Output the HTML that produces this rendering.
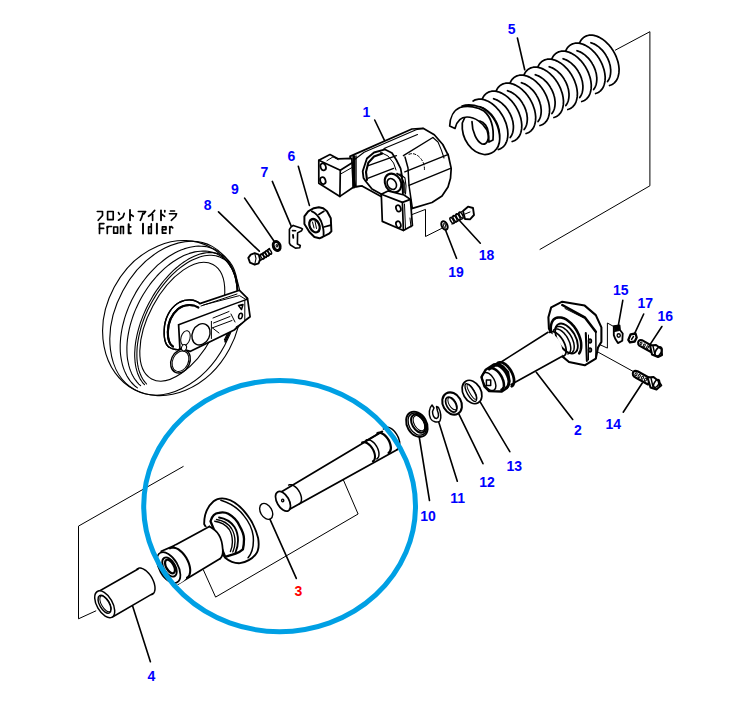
<!DOCTYPE html>
<html><head><meta charset="utf-8"><style>
html,body{margin:0;padding:0;background:#fff;width:747px;height:717px;overflow:hidden}
svg{display:block}
</style></head><body>
<svg width="747" height="717" viewBox="0 0 747 717" fill="none" stroke="#000" stroke-linecap="round" stroke-linejoin="round">
<path d="M615.4,50.1 L649.9,31.7 L649.9,185.8 L540.0,249.4" stroke-width="1.0" />
<path d="M183.2,466.5 L78.5,526.1 L78.5,618.8 L95.8,610.9" stroke-width="1.0" />
<text x="362.5" y="117" fill="#0000ff" stroke="none" style="font-family:&quot;Liberation Sans&quot;,sans-serif;font-weight:bold;font-size:14px">1</text>
<text x="507.8" y="34.2" fill="#0000ff" stroke="none" style="font-family:&quot;Liberation Sans&quot;,sans-serif;font-weight:bold;font-size:14px">5</text>
<text x="287.5" y="160.5" fill="#0000ff" stroke="none" style="font-family:&quot;Liberation Sans&quot;,sans-serif;font-weight:bold;font-size:14px">6</text>
<text x="260.5" y="176.7" fill="#0000ff" stroke="none" style="font-family:&quot;Liberation Sans&quot;,sans-serif;font-weight:bold;font-size:14px">7</text>
<text x="203.8" y="210" fill="#0000ff" stroke="none" style="font-family:&quot;Liberation Sans&quot;,sans-serif;font-weight:bold;font-size:14px">8</text>
<text x="231" y="194" fill="#0000ff" stroke="none" style="font-family:&quot;Liberation Sans&quot;,sans-serif;font-weight:bold;font-size:14px">9</text>
<text x="478.8" y="259.7" fill="#0000ff" stroke="none" style="font-family:&quot;Liberation Sans&quot;,sans-serif;font-weight:bold;font-size:14px">18</text>
<text x="448.3" y="276.7" fill="#0000ff" stroke="none" style="font-family:&quot;Liberation Sans&quot;,sans-serif;font-weight:bold;font-size:14px">19</text>
<text x="613" y="295" fill="#0000ff" stroke="none" style="font-family:&quot;Liberation Sans&quot;,sans-serif;font-weight:bold;font-size:14px">15</text>
<text x="637.5" y="308" fill="#0000ff" stroke="none" style="font-family:&quot;Liberation Sans&quot;,sans-serif;font-weight:bold;font-size:14px">17</text>
<text x="657.5" y="321" fill="#0000ff" stroke="none" style="font-family:&quot;Liberation Sans&quot;,sans-serif;font-weight:bold;font-size:14px">16</text>
<text x="605.5" y="428.8" fill="#0000ff" stroke="none" style="font-family:&quot;Liberation Sans&quot;,sans-serif;font-weight:bold;font-size:14px">14</text>
<text x="574" y="435.1" fill="#0000ff" stroke="none" style="font-family:&quot;Liberation Sans&quot;,sans-serif;font-weight:bold;font-size:14px">2</text>
<text x="506.5" y="471.2" fill="#0000ff" stroke="none" style="font-family:&quot;Liberation Sans&quot;,sans-serif;font-weight:bold;font-size:14px">13</text>
<text x="479.2" y="487.3" fill="#0000ff" stroke="none" style="font-family:&quot;Liberation Sans&quot;,sans-serif;font-weight:bold;font-size:14px">12</text>
<text x="450.3" y="502.7" fill="#0000ff" stroke="none" style="font-family:&quot;Liberation Sans&quot;,sans-serif;font-weight:bold;font-size:14px">11</text>
<text x="420.3" y="520.9" fill="#0000ff" stroke="none" style="font-family:&quot;Liberation Sans&quot;,sans-serif;font-weight:bold;font-size:14px">10</text>
<text x="147.5" y="681.1" fill="#0000ff" stroke="none" style="font-family:&quot;Liberation Sans&quot;,sans-serif;font-weight:bold;font-size:14px">4</text>
<text x="294.6" y="595.9" fill="#ff0000" stroke="none" style="font-family:&quot;Liberation Sans&quot;,sans-serif;font-weight:bold;font-size:14px">3</text>
<path d="M374.7,120.0 L385.3,142.1" stroke-width="1.61" />
<path d="M517.4,38.0 L524.7,69.8" stroke-width="1.61" />
<path d="M298.3,166.3 L309.4,205.4" stroke-width="1.61" />
<path d="M272.3,181.4 L291.1,225.9" stroke-width="1.61" />
<path d="M218.5,211.8 L259.3,251.2" stroke-width="1.61" />
<path d="M244.6,198.1 L274.3,241.5" stroke-width="1.61" />
<path d="M459.7,220.7 L480.3,243.2" stroke-width="1.61" />
<path d="M445.1,229.0 L456.5,258.3" stroke-width="1.61" />
<path d="M622.8,300.3 L617.9,327.9" stroke-width="1.61" />
<path d="M643.7,314.0 L634.0,334.9" stroke-width="1.61" />
<path d="M661.9,326.5 L650.0,344.6" stroke-width="1.61" />
<path d="M623.2,412.2 L642.3,383.0" stroke-width="1.61" />
<path d="M572.7,419.5 L536.3,372.3" stroke-width="1.61" />
<path d="M509.8,451.7 L480.3,402.1" stroke-width="1.61" />
<path d="M483.0,463.7 L458.9,414.2" stroke-width="1.61" />
<path d="M457.3,481.2 L438.8,422.2" stroke-width="1.61" />
<path d="M429.5,500.5 L419.3,437.5" stroke-width="1.61" />
<path d="M150.4,661.7 L132.6,605.9" stroke-width="1.61" />
<path d="M296.3,578.4 L270.0,519.4" stroke-width="1.61" />
<path d="M412.4,214.4 L425.5,209.4 L425.5,236.5 L441.5,228.5" stroke-width="1.0" />
<path d="M613.7,326.5 L607.4,323.0 L607.4,348.1 L598.4,344.0" stroke-width="1.0" />
<path d="M598.4,352.3 L633.3,371.5" stroke-width="1.0" />
<path d="M203.4,570.0 L215.6,597.1 L358.1,514.0 L343.1,479.3" stroke-width="1.0" />
<path d="M578.3,47.9 L578.6,46.2 L579.0,44.5 L579.6,43.0 L580.2,41.6 L581.0,40.3 L581.9,39.1 L582.9,38.1 L584.0,37.2 L585.2,36.5 L586.5,35.9 L587.9,35.5 L589.3,35.2 L590.8,35.1 L592.3,35.2 L593.9,35.4 L595.5,35.8 L597.2,36.4 L598.8,37.1 L600.4,37.9 L602.1,38.9 L603.7,40.1 L605.3,41.4 L606.8,42.8 L608.3,44.3 L609.7,45.9 L611.0,47.6 L612.3,49.4 L613.5,51.3 L614.5,53.2 L615.5,55.1 L616.4,57.2 L617.1,59.2 L617.8,61.2 L618.3,63.3 L618.7,65.3 L618.9,67.2 L619.1,69.2 L619.0,71.1 L618.9,72.9 L618.6,74.6 L618.2,76.3 L617.7,77.8 L617.1,79.2 L616.3,80.6 L615.4,81.7 L614.4,82.8 L613.3,83.7 L612.1,84.4 L610.9,85.0 L609.5,85.5 L603.5,85.9 L604.4,85.4 L605.3,84.9 L606.1,84.3 L606.9,83.7 L607.6,82.9 L608.3,82.1 L608.9,81.2 L609.4,80.3 L609.9,79.3 L610.3,78.2 L610.6,77.1 L610.9,76.0 L611.1,74.8 L611.3,73.5 L611.3,72.3 L611.4,70.9 L611.3,69.6 L611.1,68.2 L610.9,66.9 L610.7,65.5 L610.3,64.1 L609.9,62.7 L609.4,61.3 L608.9,60.0 L608.3,58.6 L607.6,57.3 L606.9,55.9 L606.2,54.7 L605.3,53.4 L604.5,52.2 L603.6,51.0 L602.6,49.9 L601.6,48.8 L600.6,47.8 L599.6,46.9 L598.5,46.0 L597.4,45.2 L596.3,44.4 L595.1,43.8 L594.0,43.2 L592.8,42.6 L591.7,42.2 L590.5,41.8 L589.4,41.6 L588.3,41.4 L587.2,41.3 L586.1,41.2 L585.0,41.3 L584.0,41.4 L583.0,41.7Z" stroke="none" fill="#fff"/>
<path d="M578.3,47.9 L578.6,46.2 L579.0,44.5 L579.6,43.0 L580.2,41.6 L581.0,40.3 L581.9,39.1 L582.9,38.1 L584.0,37.2 L585.2,36.5 L586.5,35.9 L587.9,35.5 L589.3,35.2 L590.8,35.1 L592.3,35.2 L593.9,35.4 L595.5,35.8 L597.2,36.4 L598.8,37.1 L600.4,37.9 L602.1,38.9 L603.7,40.1 L605.3,41.4 L606.8,42.8 L608.3,44.3 L609.7,45.9 L611.0,47.6 L612.3,49.4 L613.5,51.3 L614.5,53.2 L615.5,55.1 L616.4,57.2 L617.1,59.2 L617.8,61.2 L618.3,63.3 L618.7,65.3 L618.9,67.2 L619.1,69.2 L619.0,71.1 L618.9,72.9 L618.6,74.6 L618.2,76.3 L617.7,77.8 L617.1,79.2 L616.3,80.6 L615.4,81.7 L614.4,82.8 L613.3,83.7 L612.1,84.4 L610.9,85.0 L609.5,85.5" stroke-width="1.72" />
<path d="M607.5,81.6 L608.0,80.8 L608.5,80.0 L609.0,79.1 L609.4,78.2 L609.8,77.2 L610.1,76.2 L610.3,75.2 L610.5,74.1 L610.6,73.0 L610.7,71.9 L610.7,70.7 L610.7,69.5 L610.5,68.3 L610.4,67.1 L610.2,65.8 L609.9,64.6 L609.5,63.3 L609.2,62.1 L608.7,60.9 L608.2,59.7 L607.7,58.4 L607.1,57.3 L606.4,56.1 L605.8,54.9 L605.0,53.8 L604.3,52.8 L603.5,51.7 L602.6,50.7 L601.7,49.7 L600.8,48.8 L599.9,48.0 L599.0,47.1 L598.0,46.4 L597.0,45.7 L596.0,45.0 L595.0,44.4 L593.9,43.9 L592.9,43.5 L591.9,43.1 L590.9,42.7" stroke-width="1.72" />
<path d="M564.4,55.9 L564.7,54.2 L565.1,52.5 L565.7,51.0 L566.3,49.6 L567.1,48.3 L568.0,47.1 L569.0,46.1 L570.1,45.2 L571.3,44.5 L572.6,43.9 L574.0,43.5 L575.4,43.2 L576.9,43.1 L578.4,43.2 L580.0,43.4 L581.6,43.8 L583.3,44.4 L584.9,45.1 L586.5,45.9 L588.2,46.9 L589.8,48.1 L591.4,49.4 L592.9,50.8 L594.4,52.3 L595.8,53.9 L597.1,55.6 L598.4,57.4 L599.6,59.3 L600.6,61.2 L601.6,63.1 L602.5,65.2 L603.2,67.2 L603.9,69.2 L604.4,71.3 L604.8,73.3 L605.0,75.2 L605.2,77.2 L605.1,79.1 L605.0,80.9 L604.7,82.6 L604.3,84.3 L603.8,85.8 L603.2,87.2 L602.4,88.6 L601.5,89.7 L600.5,90.8 L599.4,91.7 L598.2,92.4 L597.0,93.0 L595.6,93.5 L589.6,93.9 L590.5,93.4 L591.4,92.9 L592.2,92.3 L593.0,91.7 L593.7,90.9 L594.4,90.1 L595.0,89.2 L595.5,88.3 L596.0,87.3 L596.4,86.2 L596.7,85.1 L597.0,84.0 L597.2,82.8 L597.4,81.5 L597.4,80.3 L597.5,78.9 L597.4,77.6 L597.2,76.2 L597.0,74.9 L596.8,73.5 L596.4,72.1 L596.0,70.7 L595.5,69.3 L595.0,68.0 L594.4,66.6 L593.7,65.3 L593.0,63.9 L592.3,62.7 L591.4,61.4 L590.6,60.2 L589.7,59.0 L588.7,57.9 L587.7,56.8 L586.7,55.8 L585.7,54.9 L584.6,54.0 L583.5,53.2 L582.4,52.4 L581.2,51.8 L580.1,51.2 L578.9,50.6 L577.8,50.2 L576.6,49.8 L575.5,49.6 L574.4,49.4 L573.3,49.3 L572.2,49.2 L571.1,49.3 L570.1,49.4 L569.1,49.7Z" stroke="none" fill="#fff"/>
<path d="M564.4,55.9 L564.7,54.2 L565.1,52.5 L565.7,51.0 L566.3,49.6 L567.1,48.3 L568.0,47.1 L569.0,46.1 L570.1,45.2 L571.3,44.5 L572.6,43.9 L574.0,43.5 L575.4,43.2 L576.9,43.1 L578.4,43.2 L580.0,43.4 L581.6,43.8 L583.3,44.4 L584.9,45.1 L586.5,45.9 L588.2,46.9 L589.8,48.1 L591.4,49.4 L592.9,50.8 L594.4,52.3 L595.8,53.9 L597.1,55.6 L598.4,57.4 L599.6,59.3 L600.6,61.2 L601.6,63.1 L602.5,65.2 L603.2,67.2 L603.9,69.2 L604.4,71.3 L604.8,73.3 L605.0,75.2 L605.2,77.2 L605.1,79.1 L605.0,80.9 L604.7,82.6 L604.3,84.3 L603.8,85.8 L603.2,87.2 L602.4,88.6 L601.5,89.7 L600.5,90.8 L599.4,91.7 L598.2,92.4 L597.0,93.0 L595.6,93.5" stroke-width="1.72" />
<path d="M593.6,89.6 L594.1,88.8 L594.6,88.0 L595.1,87.1 L595.5,86.2 L595.9,85.2 L596.2,84.2 L596.4,83.2 L596.6,82.1 L596.7,81.0 L596.8,79.9 L596.8,78.7 L596.8,77.5 L596.6,76.3 L596.5,75.1 L596.3,73.8 L596.0,72.6 L595.6,71.3 L595.3,70.1 L594.8,68.9 L594.3,67.7 L593.8,66.4 L593.2,65.3 L592.5,64.1 L591.9,62.9 L591.1,61.8 L590.4,60.8 L589.6,59.7 L588.7,58.7 L587.8,57.7 L586.9,56.8 L586.0,56.0 L585.1,55.1 L584.1,54.4 L583.1,53.7 L582.1,53.0 L581.1,52.4 L580.0,51.9 L579.0,51.5 L578.0,51.1 L577.0,50.7" stroke-width="1.72" />
<path d="M550.5,63.9 L550.8,62.2 L551.2,60.5 L551.8,59.0 L552.4,57.6 L553.2,56.3 L554.1,55.1 L555.1,54.1 L556.2,53.2 L557.4,52.5 L558.7,51.9 L560.1,51.5 L561.5,51.2 L563.0,51.1 L564.5,51.2 L566.1,51.4 L567.7,51.8 L569.4,52.4 L571.0,53.1 L572.6,53.9 L574.3,54.9 L575.9,56.1 L577.5,57.4 L579.0,58.8 L580.5,60.3 L581.9,61.9 L583.2,63.6 L584.5,65.4 L585.7,67.3 L586.7,69.2 L587.7,71.1 L588.6,73.2 L589.3,75.2 L590.0,77.2 L590.5,79.3 L590.9,81.3 L591.1,83.2 L591.3,85.2 L591.2,87.1 L591.1,88.9 L590.8,90.6 L590.4,92.3 L589.9,93.8 L589.3,95.2 L588.5,96.6 L587.6,97.7 L586.6,98.8 L585.5,99.7 L584.3,100.4 L583.1,101.0 L581.7,101.5 L575.7,101.9 L576.6,101.4 L577.5,100.9 L578.3,100.3 L579.1,99.7 L579.8,98.9 L580.5,98.1 L581.1,97.2 L581.6,96.3 L582.1,95.3 L582.5,94.2 L582.8,93.1 L583.1,92.0 L583.3,90.8 L583.5,89.5 L583.5,88.3 L583.6,86.9 L583.5,85.6 L583.3,84.2 L583.1,82.9 L582.9,81.5 L582.5,80.1 L582.1,78.7 L581.6,77.3 L581.1,76.0 L580.5,74.6 L579.8,73.3 L579.1,71.9 L578.4,70.7 L577.5,69.4 L576.7,68.2 L575.8,67.0 L574.8,65.9 L573.8,64.8 L572.8,63.8 L571.8,62.9 L570.7,62.0 L569.6,61.2 L568.5,60.4 L567.3,59.8 L566.2,59.2 L565.0,58.6 L563.9,58.2 L562.7,57.8 L561.6,57.6 L560.5,57.4 L559.4,57.3 L558.3,57.2 L557.2,57.3 L556.2,57.4 L555.2,57.7Z" stroke="none" fill="#fff"/>
<path d="M550.5,63.9 L550.8,62.2 L551.2,60.5 L551.8,59.0 L552.4,57.6 L553.2,56.3 L554.1,55.1 L555.1,54.1 L556.2,53.2 L557.4,52.5 L558.7,51.9 L560.1,51.5 L561.5,51.2 L563.0,51.1 L564.5,51.2 L566.1,51.4 L567.7,51.8 L569.4,52.4 L571.0,53.1 L572.6,53.9 L574.3,54.9 L575.9,56.1 L577.5,57.4 L579.0,58.8 L580.5,60.3 L581.9,61.9 L583.2,63.6 L584.5,65.4 L585.7,67.3 L586.7,69.2 L587.7,71.1 L588.6,73.2 L589.3,75.2 L590.0,77.2 L590.5,79.3 L590.9,81.3 L591.1,83.2 L591.3,85.2 L591.2,87.1 L591.1,88.9 L590.8,90.6 L590.4,92.3 L589.9,93.8 L589.3,95.2 L588.5,96.6 L587.6,97.7 L586.6,98.8 L585.5,99.7 L584.3,100.4 L583.1,101.0 L581.7,101.5" stroke-width="1.72" />
<path d="M579.7,97.6 L580.2,96.8 L580.7,96.0 L581.2,95.1 L581.6,94.2 L582.0,93.2 L582.3,92.2 L582.5,91.2 L582.7,90.1 L582.8,89.0 L582.9,87.9 L582.9,86.7 L582.9,85.5 L582.7,84.3 L582.6,83.1 L582.4,81.8 L582.1,80.6 L581.7,79.3 L581.4,78.1 L580.9,76.9 L580.4,75.7 L579.9,74.4 L579.3,73.3 L578.6,72.1 L578.0,70.9 L577.2,69.8 L576.5,68.8 L575.7,67.7 L574.8,66.7 L573.9,65.7 L573.0,64.8 L572.1,64.0 L571.2,63.1 L570.2,62.4 L569.2,61.7 L568.2,61.0 L567.2,60.4 L566.1,59.9 L565.1,59.5 L564.1,59.1 L563.1,58.7" stroke-width="1.72" />
<path d="M536.6,71.9 L536.9,70.2 L537.3,68.5 L537.9,67.0 L538.5,65.6 L539.3,64.3 L540.2,63.1 L541.2,62.1 L542.3,61.2 L543.5,60.5 L544.8,59.9 L546.2,59.5 L547.6,59.2 L549.1,59.1 L550.6,59.2 L552.2,59.4 L553.8,59.8 L555.5,60.4 L557.1,61.1 L558.7,61.9 L560.4,62.9 L562.0,64.1 L563.6,65.4 L565.1,66.8 L566.6,68.3 L568.0,69.9 L569.3,71.6 L570.6,73.4 L571.8,75.3 L572.8,77.2 L573.8,79.1 L574.7,81.2 L575.4,83.2 L576.1,85.2 L576.6,87.3 L577.0,89.3 L577.2,91.2 L577.4,93.2 L577.3,95.1 L577.2,96.9 L576.9,98.6 L576.5,100.3 L576.0,101.8 L575.4,103.2 L574.6,104.6 L573.7,105.7 L572.7,106.8 L571.6,107.7 L570.4,108.4 L569.2,109.0 L567.8,109.5 L561.8,109.9 L562.7,109.4 L563.6,108.9 L564.4,108.3 L565.2,107.7 L565.9,106.9 L566.6,106.1 L567.2,105.2 L567.7,104.3 L568.2,103.3 L568.6,102.2 L568.9,101.1 L569.2,100.0 L569.4,98.8 L569.6,97.5 L569.6,96.3 L569.7,94.9 L569.6,93.6 L569.4,92.2 L569.2,90.9 L569.0,89.5 L568.6,88.1 L568.2,86.7 L567.7,85.3 L567.2,84.0 L566.6,82.6 L565.9,81.3 L565.2,79.9 L564.5,78.7 L563.6,77.4 L562.8,76.2 L561.9,75.0 L560.9,73.9 L559.9,72.8 L558.9,71.8 L557.9,70.9 L556.8,70.0 L555.7,69.2 L554.6,68.4 L553.4,67.8 L552.3,67.2 L551.1,66.6 L550.0,66.2 L548.8,65.8 L547.7,65.6 L546.6,65.4 L545.5,65.3 L544.4,65.2 L543.3,65.3 L542.3,65.4 L541.3,65.7Z" stroke="none" fill="#fff"/>
<path d="M536.6,71.9 L536.9,70.2 L537.3,68.5 L537.9,67.0 L538.5,65.6 L539.3,64.3 L540.2,63.1 L541.2,62.1 L542.3,61.2 L543.5,60.5 L544.8,59.9 L546.2,59.5 L547.6,59.2 L549.1,59.1 L550.6,59.2 L552.2,59.4 L553.8,59.8 L555.5,60.4 L557.1,61.1 L558.7,61.9 L560.4,62.9 L562.0,64.1 L563.6,65.4 L565.1,66.8 L566.6,68.3 L568.0,69.9 L569.3,71.6 L570.6,73.4 L571.8,75.3 L572.8,77.2 L573.8,79.1 L574.7,81.2 L575.4,83.2 L576.1,85.2 L576.6,87.3 L577.0,89.3 L577.2,91.2 L577.4,93.2 L577.3,95.1 L577.2,96.9 L576.9,98.6 L576.5,100.3 L576.0,101.8 L575.4,103.2 L574.6,104.6 L573.7,105.7 L572.7,106.8 L571.6,107.7 L570.4,108.4 L569.2,109.0 L567.8,109.5" stroke-width="1.72" />
<path d="M565.8,105.6 L566.3,104.8 L566.8,104.0 L567.3,103.1 L567.7,102.2 L568.1,101.2 L568.4,100.2 L568.6,99.2 L568.8,98.1 L568.9,97.0 L569.0,95.9 L569.0,94.7 L569.0,93.5 L568.8,92.3 L568.7,91.1 L568.5,89.8 L568.2,88.6 L567.8,87.3 L567.5,86.1 L567.0,84.9 L566.5,83.7 L566.0,82.4 L565.4,81.3 L564.7,80.1 L564.1,78.9 L563.3,77.8 L562.6,76.8 L561.8,75.7 L560.9,74.7 L560.0,73.7 L559.1,72.8 L558.2,72.0 L557.3,71.1 L556.3,70.4 L555.3,69.7 L554.3,69.0 L553.3,68.4 L552.2,67.9 L551.2,67.5 L550.2,67.1 L549.2,66.7" stroke-width="1.72" />
<path d="M522.7,79.9 L523.0,78.2 L523.4,76.5 L524.0,75.0 L524.6,73.6 L525.4,72.3 L526.3,71.1 L527.3,70.1 L528.4,69.2 L529.6,68.5 L530.9,67.9 L532.3,67.5 L533.7,67.2 L535.2,67.1 L536.7,67.2 L538.3,67.4 L539.9,67.8 L541.6,68.4 L543.2,69.1 L544.8,69.9 L546.5,70.9 L548.1,72.1 L549.7,73.4 L551.2,74.8 L552.7,76.3 L554.1,77.9 L555.4,79.6 L556.7,81.4 L557.9,83.3 L558.9,85.2 L559.9,87.1 L560.8,89.2 L561.5,91.2 L562.2,93.2 L562.7,95.3 L563.1,97.3 L563.3,99.2 L563.5,101.2 L563.4,103.1 L563.3,104.9 L563.0,106.6 L562.6,108.3 L562.1,109.8 L561.5,111.2 L560.7,112.6 L559.8,113.7 L558.8,114.8 L557.7,115.7 L556.5,116.4 L555.3,117.0 L553.9,117.5 L547.9,117.9 L548.8,117.4 L549.7,116.9 L550.5,116.3 L551.3,115.7 L552.0,114.9 L552.7,114.1 L553.3,113.2 L553.8,112.3 L554.3,111.3 L554.7,110.2 L555.0,109.1 L555.3,108.0 L555.5,106.8 L555.7,105.5 L555.7,104.3 L555.8,102.9 L555.7,101.6 L555.5,100.2 L555.3,98.9 L555.1,97.5 L554.7,96.1 L554.3,94.7 L553.8,93.3 L553.3,92.0 L552.7,90.6 L552.0,89.3 L551.3,87.9 L550.6,86.7 L549.7,85.4 L548.9,84.2 L548.0,83.0 L547.0,81.9 L546.0,80.8 L545.0,79.8 L544.0,78.9 L542.9,78.0 L541.8,77.2 L540.7,76.4 L539.5,75.8 L538.4,75.2 L537.2,74.6 L536.1,74.2 L534.9,73.8 L533.8,73.6 L532.7,73.4 L531.6,73.3 L530.5,73.2 L529.4,73.3 L528.4,73.4 L527.4,73.7Z" stroke="none" fill="#fff"/>
<path d="M522.7,79.9 L523.0,78.2 L523.4,76.5 L524.0,75.0 L524.6,73.6 L525.4,72.3 L526.3,71.1 L527.3,70.1 L528.4,69.2 L529.6,68.5 L530.9,67.9 L532.3,67.5 L533.7,67.2 L535.2,67.1 L536.7,67.2 L538.3,67.4 L539.9,67.8 L541.6,68.4 L543.2,69.1 L544.8,69.9 L546.5,70.9 L548.1,72.1 L549.7,73.4 L551.2,74.8 L552.7,76.3 L554.1,77.9 L555.4,79.6 L556.7,81.4 L557.9,83.3 L558.9,85.2 L559.9,87.1 L560.8,89.2 L561.5,91.2 L562.2,93.2 L562.7,95.3 L563.1,97.3 L563.3,99.2 L563.5,101.2 L563.4,103.1 L563.3,104.9 L563.0,106.6 L562.6,108.3 L562.1,109.8 L561.5,111.2 L560.7,112.6 L559.8,113.7 L558.8,114.8 L557.7,115.7 L556.5,116.4 L555.3,117.0 L553.9,117.5" stroke-width="1.72" />
<path d="M551.9,113.6 L552.4,112.8 L552.9,112.0 L553.4,111.1 L553.8,110.2 L554.2,109.2 L554.5,108.2 L554.7,107.2 L554.9,106.1 L555.0,105.0 L555.1,103.9 L555.1,102.7 L555.1,101.5 L554.9,100.3 L554.8,99.1 L554.6,97.8 L554.3,96.6 L553.9,95.3 L553.6,94.1 L553.1,92.9 L552.6,91.7 L552.1,90.4 L551.5,89.3 L550.8,88.1 L550.2,86.9 L549.4,85.8 L548.7,84.8 L547.9,83.7 L547.0,82.7 L546.1,81.7 L545.2,80.8 L544.3,80.0 L543.4,79.1 L542.4,78.4 L541.4,77.7 L540.4,77.0 L539.4,76.4 L538.3,75.9 L537.3,75.5 L536.3,75.1 L535.3,74.7" stroke-width="1.72" />
<path d="M508.8,87.9 L509.1,86.2 L509.5,84.5 L510.1,83.0 L510.7,81.6 L511.5,80.3 L512.4,79.1 L513.4,78.1 L514.5,77.2 L515.7,76.5 L517.0,75.9 L518.4,75.5 L519.8,75.2 L521.3,75.1 L522.8,75.2 L524.4,75.4 L526.0,75.8 L527.7,76.4 L529.3,77.1 L530.9,77.9 L532.6,78.9 L534.2,80.1 L535.8,81.4 L537.3,82.8 L538.8,84.3 L540.2,85.9 L541.5,87.6 L542.8,89.4 L544.0,91.3 L545.0,93.2 L546.0,95.1 L546.9,97.2 L547.6,99.2 L548.3,101.2 L548.8,103.3 L549.2,105.3 L549.4,107.2 L549.6,109.2 L549.5,111.1 L549.4,112.9 L549.1,114.6 L548.7,116.3 L548.2,117.8 L547.6,119.2 L546.8,120.6 L545.9,121.7 L544.9,122.8 L543.8,123.7 L542.6,124.4 L541.4,125.0 L540.0,125.5 L534.0,125.9 L534.9,125.4 L535.8,124.9 L536.6,124.3 L537.4,123.7 L538.1,122.9 L538.8,122.1 L539.4,121.2 L539.9,120.3 L540.4,119.3 L540.8,118.2 L541.1,117.1 L541.4,116.0 L541.6,114.8 L541.8,113.5 L541.8,112.3 L541.9,110.9 L541.8,109.6 L541.6,108.2 L541.4,106.9 L541.2,105.5 L540.8,104.1 L540.4,102.7 L539.9,101.3 L539.4,100.0 L538.8,98.6 L538.1,97.3 L537.4,95.9 L536.7,94.7 L535.8,93.4 L535.0,92.2 L534.1,91.0 L533.1,89.9 L532.1,88.8 L531.1,87.8 L530.1,86.9 L529.0,86.0 L527.9,85.2 L526.8,84.4 L525.6,83.8 L524.5,83.2 L523.3,82.6 L522.2,82.2 L521.0,81.8 L519.9,81.6 L518.8,81.4 L517.7,81.3 L516.6,81.2 L515.5,81.3 L514.5,81.4 L513.5,81.7Z" stroke="none" fill="#fff"/>
<path d="M508.8,87.9 L509.1,86.2 L509.5,84.5 L510.1,83.0 L510.7,81.6 L511.5,80.3 L512.4,79.1 L513.4,78.1 L514.5,77.2 L515.7,76.5 L517.0,75.9 L518.4,75.5 L519.8,75.2 L521.3,75.1 L522.8,75.2 L524.4,75.4 L526.0,75.8 L527.7,76.4 L529.3,77.1 L530.9,77.9 L532.6,78.9 L534.2,80.1 L535.8,81.4 L537.3,82.8 L538.8,84.3 L540.2,85.9 L541.5,87.6 L542.8,89.4 L544.0,91.3 L545.0,93.2 L546.0,95.1 L546.9,97.2 L547.6,99.2 L548.3,101.2 L548.8,103.3 L549.2,105.3 L549.4,107.2 L549.6,109.2 L549.5,111.1 L549.4,112.9 L549.1,114.6 L548.7,116.3 L548.2,117.8 L547.6,119.2 L546.8,120.6 L545.9,121.7 L544.9,122.8 L543.8,123.7 L542.6,124.4 L541.4,125.0 L540.0,125.5" stroke-width="1.72" />
<path d="M538.0,121.6 L538.5,120.8 L539.0,120.0 L539.5,119.1 L539.9,118.2 L540.3,117.2 L540.6,116.2 L540.8,115.2 L541.0,114.1 L541.1,113.0 L541.2,111.9 L541.2,110.7 L541.2,109.5 L541.0,108.3 L540.9,107.1 L540.7,105.8 L540.4,104.6 L540.0,103.3 L539.7,102.1 L539.2,100.9 L538.7,99.7 L538.2,98.4 L537.6,97.3 L536.9,96.1 L536.3,94.9 L535.5,93.8 L534.8,92.8 L534.0,91.7 L533.1,90.7 L532.2,89.7 L531.3,88.8 L530.4,88.0 L529.5,87.1 L528.5,86.4 L527.5,85.7 L526.5,85.0 L525.5,84.4 L524.4,83.9 L523.4,83.5 L522.4,83.1 L521.4,82.7" stroke-width="1.72" />
<path d="M494.9,95.9 L495.2,94.2 L495.6,92.5 L496.2,91.0 L496.8,89.6 L497.6,88.3 L498.5,87.1 L499.5,86.1 L500.6,85.2 L501.8,84.5 L503.1,83.9 L504.5,83.5 L505.9,83.2 L507.4,83.1 L508.9,83.2 L510.5,83.4 L512.1,83.8 L513.8,84.4 L515.4,85.1 L517.0,85.9 L518.7,86.9 L520.3,88.1 L521.9,89.4 L523.4,90.8 L524.9,92.3 L526.3,93.9 L527.6,95.6 L528.9,97.4 L530.1,99.3 L531.1,101.2 L532.1,103.1 L533.0,105.2 L533.7,107.2 L534.4,109.2 L534.9,111.3 L535.3,113.3 L535.5,115.2 L535.7,117.2 L535.6,119.1 L535.5,120.9 L535.2,122.6 L534.8,124.3 L534.3,125.8 L533.7,127.2 L532.9,128.6 L532.0,129.7 L531.0,130.8 L529.9,131.7 L528.7,132.4 L527.5,133.0 L526.1,133.5 L520.1,133.9 L521.0,133.4 L521.9,132.9 L522.7,132.3 L523.5,131.7 L524.2,130.9 L524.9,130.1 L525.5,129.2 L526.0,128.3 L526.5,127.3 L526.9,126.2 L527.2,125.1 L527.5,124.0 L527.7,122.8 L527.9,121.5 L527.9,120.3 L528.0,118.9 L527.9,117.6 L527.7,116.2 L527.5,114.9 L527.3,113.5 L526.9,112.1 L526.5,110.7 L526.0,109.3 L525.5,108.0 L524.9,106.6 L524.2,105.3 L523.5,103.9 L522.8,102.7 L521.9,101.4 L521.1,100.2 L520.2,99.0 L519.2,97.9 L518.2,96.8 L517.2,95.8 L516.2,94.9 L515.1,94.0 L514.0,93.2 L512.9,92.4 L511.7,91.8 L510.6,91.2 L509.4,90.6 L508.3,90.2 L507.1,89.8 L506.0,89.6 L504.9,89.4 L503.8,89.3 L502.7,89.2 L501.6,89.3 L500.6,89.4 L499.6,89.7Z" stroke="none" fill="#fff"/>
<path d="M494.9,95.9 L495.2,94.2 L495.6,92.5 L496.2,91.0 L496.8,89.6 L497.6,88.3 L498.5,87.1 L499.5,86.1 L500.6,85.2 L501.8,84.5 L503.1,83.9 L504.5,83.5 L505.9,83.2 L507.4,83.1 L508.9,83.2 L510.5,83.4 L512.1,83.8 L513.8,84.4 L515.4,85.1 L517.0,85.9 L518.7,86.9 L520.3,88.1 L521.9,89.4 L523.4,90.8 L524.9,92.3 L526.3,93.9 L527.6,95.6 L528.9,97.4 L530.1,99.3 L531.1,101.2 L532.1,103.1 L533.0,105.2 L533.7,107.2 L534.4,109.2 L534.9,111.3 L535.3,113.3 L535.5,115.2 L535.7,117.2 L535.6,119.1 L535.5,120.9 L535.2,122.6 L534.8,124.3 L534.3,125.8 L533.7,127.2 L532.9,128.6 L532.0,129.7 L531.0,130.8 L529.9,131.7 L528.7,132.4 L527.5,133.0 L526.1,133.5" stroke-width="1.72" />
<path d="M524.1,129.6 L524.6,128.8 L525.1,128.0 L525.6,127.1 L526.0,126.2 L526.4,125.2 L526.7,124.2 L526.9,123.2 L527.1,122.1 L527.2,121.0 L527.3,119.9 L527.3,118.7 L527.3,117.5 L527.1,116.3 L527.0,115.1 L526.8,113.8 L526.5,112.6 L526.1,111.3 L525.8,110.1 L525.3,108.9 L524.8,107.7 L524.3,106.4 L523.7,105.3 L523.0,104.1 L522.4,102.9 L521.6,101.8 L520.9,100.8 L520.1,99.7 L519.2,98.7 L518.3,97.7 L517.4,96.8 L516.5,96.0 L515.6,95.1 L514.6,94.4 L513.6,93.7 L512.6,93.0 L511.6,92.4 L510.5,91.9 L509.5,91.5 L508.5,91.1 L507.5,90.7" stroke-width="1.72" />
<path d="M481.0,103.9 L481.3,102.2 L481.7,100.5 L482.3,99.0 L482.9,97.6 L483.7,96.3 L484.6,95.1 L485.6,94.1 L486.7,93.2 L487.9,92.5 L489.2,91.9 L490.6,91.5 L492.0,91.2 L493.5,91.1 L495.0,91.2 L496.6,91.4 L498.2,91.8 L499.9,92.4 L501.5,93.1 L503.1,93.9 L504.8,94.9 L506.4,96.1 L508.0,97.4 L509.5,98.8 L511.0,100.3 L512.4,101.9 L513.7,103.6 L515.0,105.4 L516.2,107.3 L517.2,109.2 L518.2,111.1 L519.1,113.2 L519.8,115.2 L520.5,117.2 L521.0,119.3 L521.4,121.3 L521.6,123.2 L521.8,125.2 L521.7,127.1 L521.6,128.9 L521.3,130.6 L520.9,132.3 L520.4,133.8 L519.8,135.2 L519.0,136.6 L518.1,137.7 L517.1,138.8 L516.0,139.7 L514.8,140.4 L513.6,141.0 L512.2,141.5 L506.2,141.9 L507.1,141.4 L508.0,140.9 L508.8,140.3 L509.6,139.7 L510.3,138.9 L511.0,138.1 L511.6,137.2 L512.1,136.3 L512.6,135.3 L513.0,134.2 L513.3,133.1 L513.6,132.0 L513.8,130.8 L514.0,129.5 L514.0,128.3 L514.1,126.9 L514.0,125.6 L513.8,124.2 L513.6,122.9 L513.4,121.5 L513.0,120.1 L512.6,118.7 L512.1,117.3 L511.6,116.0 L511.0,114.6 L510.3,113.3 L509.6,111.9 L508.9,110.7 L508.0,109.4 L507.2,108.2 L506.3,107.0 L505.3,105.9 L504.3,104.8 L503.3,103.8 L502.3,102.9 L501.2,102.0 L500.1,101.2 L499.0,100.4 L497.8,99.8 L496.7,99.2 L495.5,98.6 L494.4,98.2 L493.2,97.8 L492.1,97.6 L491.0,97.4 L489.9,97.3 L488.8,97.2 L487.7,97.3 L486.7,97.4 L485.7,97.7Z" stroke="none" fill="#fff"/>
<path d="M481.0,103.9 L481.3,102.2 L481.7,100.5 L482.3,99.0 L482.9,97.6 L483.7,96.3 L484.6,95.1 L485.6,94.1 L486.7,93.2 L487.9,92.5 L489.2,91.9 L490.6,91.5 L492.0,91.2 L493.5,91.1 L495.0,91.2 L496.6,91.4 L498.2,91.8 L499.9,92.4 L501.5,93.1 L503.1,93.9 L504.8,94.9 L506.4,96.1 L508.0,97.4 L509.5,98.8 L511.0,100.3 L512.4,101.9 L513.7,103.6 L515.0,105.4 L516.2,107.3 L517.2,109.2 L518.2,111.1 L519.1,113.2 L519.8,115.2 L520.5,117.2 L521.0,119.3 L521.4,121.3 L521.6,123.2 L521.8,125.2 L521.7,127.1 L521.6,128.9 L521.3,130.6 L520.9,132.3 L520.4,133.8 L519.8,135.2 L519.0,136.6 L518.1,137.7 L517.1,138.8 L516.0,139.7 L514.8,140.4 L513.6,141.0 L512.2,141.5" stroke-width="1.72" />
<path d="M510.2,137.6 L510.7,136.8 L511.2,136.0 L511.7,135.1 L512.1,134.2 L512.5,133.2 L512.8,132.2 L513.0,131.2 L513.2,130.1 L513.3,129.0 L513.4,127.9 L513.4,126.7 L513.4,125.5 L513.2,124.3 L513.1,123.1 L512.9,121.8 L512.6,120.6 L512.2,119.3 L511.9,118.1 L511.4,116.9 L510.9,115.7 L510.4,114.4 L509.8,113.3 L509.1,112.1 L508.5,110.9 L507.7,109.8 L507.0,108.8 L506.2,107.7 L505.3,106.7 L504.4,105.7 L503.5,104.8 L502.6,104.0 L501.7,103.1 L500.7,102.4 L499.7,101.7 L498.7,101.0 L497.7,100.4 L496.6,99.9 L495.6,99.5 L494.6,99.1 L493.6,98.7" stroke-width="1.72" />
<path d="M473.1,101.0 L474.1,100.4 L475.2,99.9 L476.3,99.6 L477.5,99.3 L478.7,99.2 L480.0,99.1 L481.3,99.2 L482.6,99.4 L484.0,99.7 L485.3,100.1 L486.7,100.7 L488.1,101.3 L489.4,102.0 L490.8,102.9 L492.1,103.8 L493.5,104.9 L494.8,106.0 L496.0,107.2 L497.2,108.5 L498.4,109.8 L499.6,111.2 L500.6,112.7 L501.6,114.2 L502.6,115.8 L503.5,117.4 L504.3,119.1 L505.0,120.8 L505.7,122.4 L506.3,124.1 L506.7,125.8 L507.1,127.5 L507.5,129.2 L507.7,130.9 L507.8,132.5 L507.9,134.1 L507.8,135.6 L507.7,137.2 L507.4,138.6 L507.1,140.0 L506.7,141.3 L506.2,142.5 L505.6,143.7 L505.0,144.7 L504.2,145.7 L503.4,146.6 L502.5,147.4 L501.5,148.1 L500.5,148.7 L499.4,149.1 L498.3,149.5 L492.3,149.9 L493.2,149.4 L494.1,148.9 L494.9,148.3 L495.7,147.7 L496.4,146.9 L497.1,146.1 L497.7,145.2 L498.2,144.3 L498.7,143.3 L499.1,142.2 L499.4,141.1 L499.7,140.0 L499.9,138.8 L500.1,137.5 L500.1,136.3 L500.2,134.9 L500.1,133.6 L499.9,132.2 L499.7,130.9 L499.5,129.5 L499.1,128.1 L498.7,126.7 L498.2,125.3 L497.7,124.0 L497.1,122.6 L496.4,121.3 L495.7,119.9 L495.0,118.7 L494.1,117.4 L493.3,116.2 L492.4,115.0 L491.4,113.9 L490.4,112.8 L489.4,111.8 L488.4,110.9 L487.3,110.0 L486.2,109.2 L485.1,108.4 L483.9,107.8 L482.8,107.2 L481.6,106.6 L480.5,106.2 L479.3,105.8 L478.2,105.6 L477.1,105.4 L476.0,105.3 L474.9,105.2 L473.8,105.3 L472.8,105.4 L471.8,105.7Z" stroke="none" fill="#fff"/>
<path d="M473.1,101.0 L474.1,100.4 L475.2,99.9 L476.3,99.6 L477.5,99.3 L478.7,99.2 L480.0,99.1 L481.3,99.2 L482.6,99.4 L484.0,99.7 L485.3,100.1 L486.7,100.7 L488.1,101.3 L489.4,102.0 L490.8,102.9 L492.1,103.8 L493.5,104.9 L494.8,106.0 L496.0,107.2 L497.2,108.5 L498.4,109.8 L499.6,111.2 L500.6,112.7 L501.6,114.2 L502.6,115.8 L503.5,117.4 L504.3,119.1 L505.0,120.8 L505.7,122.4 L506.3,124.1 L506.7,125.8 L507.1,127.5 L507.5,129.2 L507.7,130.9 L507.8,132.5 L507.9,134.1 L507.8,135.6 L507.7,137.2 L507.4,138.6 L507.1,140.0 L506.7,141.3 L506.2,142.5 L505.6,143.7 L505.0,144.7 L504.2,145.7 L503.4,146.6 L502.5,147.4 L501.5,148.1 L500.5,148.7 L499.4,149.1 L498.3,149.5" stroke-width="1.72" />
<path d="M496.3,145.6 L496.8,144.8 L497.3,144.0 L497.8,143.1 L498.2,142.2 L498.6,141.2 L498.9,140.2 L499.1,139.2 L499.3,138.1 L499.4,137.0 L499.5,135.9 L499.5,134.7 L499.5,133.5 L499.3,132.3 L499.2,131.1 L499.0,129.8 L498.7,128.6 L498.3,127.3 L498.0,126.1 L497.5,124.9 L497.0,123.7 L496.5,122.4 L495.9,121.3 L495.2,120.1 L494.6,118.9 L493.8,117.8 L493.1,116.8 L492.3,115.7 L491.4,114.7 L490.5,113.7 L489.6,112.8 L488.7,112.0 L487.8,111.1 L486.8,110.4 L485.8,109.7 L484.8,109.0 L483.8,108.4 L482.7,107.9 L481.7,107.5 L480.7,107.1 L479.7,106.7" stroke-width="1.72" />
<path d="M462.3,123 C461,140 472,153 484,154.5 C495,155 501,146 499.5,135 C498,122 490,111 480,107 C472,104 466,104.5 462,106 L470,106 Z" stroke-width="1.72" fill="#fff"/>
<path d="M449.7,126 C450,117 454,110 460,107.5 C468,105 478,107 484,111 C492,118 494,128 493,140 L489,142 C489,136 489,136 487,130 C483,123 475,117 467,117 C461,117 457,120 455,128.5 Z" stroke-width="1.72" fill="#fff"/>
<path d="M472,121.7 C472,132 477,142 482,144 C487,145 489,140 488.5,133 C488,127 484,122 480,121" stroke-width="1.72" />
<ellipse cx="171.8" cy="318.1" rx="80.7" ry="65.4" transform="rotate(118.2 171.8 318.1)" stroke-width="1.1" />
<ellipse cx="173.7" cy="318.2" rx="81.5" ry="57.8" transform="rotate(118.2 173.7 318.2)" stroke-width="1.1" />
<path d="M137.4,387.9 L135.3,386.3 L133.4,384.5 L131.5,382.5 L129.8,380.4 L128.3,378.1 L126.8,375.7 L125.5,373.1 L124.3,370.4 L123.3,367.6 L122.4,364.6 L121.7,361.5 L121.1,358.3 L120.6,355.0 L120.3,351.7 L120.2,348.2 L120.2,344.7 L120.4,341.1 L120.7,337.4 L121.2,333.7 L121.8,330.0 L122.5,326.3 L123.5,322.5 L124.5,318.7 L125.7,314.9 L127.0,311.2 L128.5,307.4 L130.1,303.7 L131.8,300.1 L133.7,296.5 L135.6,292.9 L137.7,289.4 L139.9,286.0 L142.2,282.7 L144.6,279.5 L147.0,276.4 L149.6,273.4 L152.2,270.6 L154.9,267.8 L157.6,265.2 L160.5,262.8 L163.3,260.5 L166.2,258.3 L169.1,256.3 L172.1,254.5 L175.1,252.8 L178.1,251.3 L181.0,250.0 L184.0,248.9 L187.0,248.0 L189.9,247.2 L192.8,246.7 L195.7,246.3 L198.5,246.1 L201.3,246.2 L204.0,246.4 L206.7,246.8 L209.3,247.4 L211.8,248.2 L214.2,249.1 L216.5,250.3 L218.8,251.6 L220.9,253.1 L222.9,254.8 L224.8,256.7 L226.6,258.7 L228.2,260.9 L229.7,263.2 L231.1,265.7 L232.4,268.4 L233.5,271.1 L234.5,274.0 L235.3,277.0 L236.0,280.1 L236.5,283.4 L236.9,286.7 L237.1,290.1 L237.2,293.6 L237.1,297.2 L236.9,300.8 L236.5,304.5 L236.0,308.2 L235.3,311.9 L234.5,315.7 L233.5,319.4 L232.4,323.2 L231.2,327.0 L229.8,330.7 L228.3,334.5 L226.6,338.2 L224.8,341.8" stroke-width="1.1" />
<path d="M140.6,385.7 L138.8,384.1 L137.1,382.2 L135.6,380.2 L134.1,378.1 L132.8,375.8 L131.6,373.4 L130.6,370.9 L129.6,368.2 L128.8,365.4 L128.2,362.5 L127.6,359.6 L127.2,356.5 L127.0,353.3 L126.9,350.0 L126.9,346.7 L127.1,343.3 L127.4,339.9 L127.9,336.4 L128.5,332.8 L129.2,329.3 L130.1,325.7 L131.1,322.1 L132.2,318.6 L133.4,315.0 L134.8,311.4 L136.3,307.9 L137.9,304.4 L139.6,301.0 L141.5,297.6 L143.4,294.2 L145.5,291.0 L147.6,287.8 L149.8,284.7 L152.1,281.7 L154.5,278.8 L156.9,276.0 L159.4,273.4 L162.0,270.8 L164.6,268.4 L167.3,266.1 L170.0,264.0 L172.7,262.0 L175.5,260.2 L178.3,258.5 L181.1,257.0 L183.8,255.6 L186.6,254.4 L189.4,253.4 L192.2,252.6 L194.9,251.9 L197.6,251.5 L200.2,251.2 L202.9,251.0 L205.4,251.1 L207.9,251.3 L210.3,251.8 L212.7,252.4 L215.0,253.1 L217.2,254.1 L219.3,255.2 L221.3,256.5 L223.3,258.0 L225.1,259.6 L226.8,261.4 L228.4,263.3 L229.8,265.4 L231.2,267.6 L232.4,270.0 L233.5,272.5 L234.5,275.1 L235.3,277.9 L236.1,280.7 L236.6,283.7 L237.0,286.8 L237.3,289.9 L237.5,293.2 L237.5,296.5 L237.4,299.8 L237.1,303.3 L236.7,306.8 L236.1,310.3 L235.4,313.8 L234.6,317.4 L233.7,321.0 L232.6,324.5 L231.4,328.1 L230.0,331.7 L228.6,335.2 L227.0,338.7 L225.3,342.2" stroke-width="1.1" />
<path d="M144.5,384.7 L143.0,383.1 L141.7,381.3 L140.4,379.4 L139.3,377.3 L138.3,375.1 L137.4,372.7 L136.7,370.3 L136.0,367.7 L135.5,365.0 L135.1,362.2 L134.9,359.2 L134.7,356.2 L134.7,353.1 L134.9,350.0 L135.1,346.7 L135.5,343.4 L136.0,340.1 L136.7,336.7 L137.4,333.3 L138.3,329.8 L139.3,326.3 L140.4,322.8 L141.7,319.4 L143.0,315.9 L144.5,312.4 L146.0,309.0 L147.7,305.6 L149.4,302.2 L151.3,298.9 L153.2,295.6 L155.2,292.4 L157.3,289.3 L159.5,286.3 L161.7,283.3 L164.0,280.5 L166.4,277.8 L168.8,275.1 L171.2,272.6 L173.7,270.2 L176.2,268.0 L178.8,265.8 L181.3,263.9 L183.9,262.0 L186.5,260.4 L189.0,258.8 L191.6,257.5 L194.2,256.3 L196.7,255.2 L199.2,254.3 L201.7,253.6 L204.1,253.1 L206.5,252.7 L208.8,252.6 L211.1,252.6 L213.4,252.7 L215.5,253.1 L217.6,253.6 L219.6,254.3 L221.5,255.1 L223.3,256.1 L225.1,257.3 L226.7,258.7 L228.2,260.2 L229.7,261.9 L231.0,263.7 L232.2,265.6 L233.3,267.7 L234.3,270.0 L235.1,272.4 L235.9,274.9 L236.5,277.5 L237.0,280.2 L237.3,283.0 L237.6,286.0 L237.7,289.0 L237.6,292.1 L237.5,295.3 L237.2,298.5 L236.8,301.9 L236.3,305.2 L235.6,308.6 L234.8,312.1 L233.9,315.5 L232.9,319.0 L231.7,322.5 L230.5,326.0 L229.1,329.5 L227.6,332.9 L226.0,336.4 L224.4,339.8" stroke-width="1.1" />
<path d="M146.6,384.0 L145.2,382.4 L143.8,380.7 L142.6,378.8 L141.5,376.8 L140.5,374.6 L139.6,372.3 L138.8,369.9 L138.2,367.4 L137.7,364.7 L137.3,362.0 L137.0,359.1 L136.9,356.2 L136.9,353.2 L137.0,350.1 L137.2,346.9 L137.6,343.7 L138.1,340.4 L138.7,337.1 L139.4,333.8 L140.3,330.4 L141.2,327.0 L142.3,323.6 L143.5,320.2 L144.8,316.8 L146.2,313.4 L147.7,310.1 L149.4,306.8 L151.1,303.5 L152.9,300.3 L154.8,297.1 L156.7,294.0 L158.8,290.9 L160.9,288.0 L163.1,285.1 L165.3,282.4 L167.6,279.7 L169.9,277.2 L172.3,274.7 L174.8,272.4 L177.2,270.2 L179.7,268.1 L182.2,266.2 L184.7,264.5 L187.3,262.8 L189.8,261.3 L192.3,260.0 L194.8,258.9 L197.3,257.9 L199.7,257.0 L202.2,256.3 L204.6,255.8 L206.9,255.5 L209.2,255.3 L211.5,255.3 L213.6,255.5 L215.8,255.8 L217.8,256.4 L219.8,257.0 L221.7,257.9 L223.5,258.9 L225.2,260.1 L226.8,261.4 L228.3,262.9 L229.7,264.5 L231.0,266.3 L232.2,268.2 L233.3,270.3 L234.3,272.5 L235.2,274.8 L235.9,277.2 L236.5,279.8 L237.0,282.5 L237.4,285.2 L237.6,288.1 L237.7,291.0 L237.7,294.1 L237.6,297.2 L237.3,300.4 L236.9,303.6 L236.4,306.9 L235.8,310.2 L235.0,313.5 L234.2,316.9 L233.2,320.3 L232.0,323.7 L230.8,327.1 L229.5,330.5 L228.1,333.9 L226.5,337.2 L224.9,340.5" stroke-width="1.1" />
<ellipse cx="182.3" cy="321.7" rx="64.9" ry="33.4" transform="rotate(118.2 182.3 321.7)" stroke-width="1.1" />
<g fill="#fff">
<path d="M199.8,303.6 C195,299 186.5,299 180,302 C172,306 166,315 164.5,326 C163.5,336 164,344 169.3,347.3 C173,350 178.6,350 181,349 L200,340 Z" stroke-width="1.38" />
<path d="M198.4,307.5 C193,304 184,304 178,309 C171,315 168,324 167.8,332 C167.8,340 169.5,344.6 173,346.5" stroke-width="1.84" />
<path d="M178.6,324.8 C183,316 190,307 199.8,303.6 L239.5,290.3 L247.5,298.3 L250.1,316.8 L244.8,320.8 L234.2,330 L190.5,351.3 L179.9,348.6 Z" stroke-width="1.38" stroke="none"/>
<path d="M199.8,303.6 L239.5,290.3 L247.5,298.3 L250.1,316.8 L244.8,320.8 L234.2,330.0 L190.5,351.3 L179.9,348.6 L178.6,324.8" stroke-width="1.72" />
</g>
<path d="M199.8,303.6 C195,299 186.5,299 180,302 C172,306 166,315 164.5,326 C163.5,336 164,344 169.3,347.3 C173,350 178.6,350 181,349" stroke-width="1.38" />
<path d="M198.4,307.5 C193,304 184,304 178,309 C171,315 168,324 167.8,332 C167.8,340 169.5,344.6 173,346.5" stroke-width="2.18" />
<path d="M178.6,324.8 L231.6,304.9 L246.1,299.6 L247.5,298.3" stroke-width="1.49" />
<path d="M203.7,304.9 L239.5,295.6 L246.1,299.6" stroke-width="1.0" />
<path d="M244.8,300.5 L244.8,320.8" stroke-width="1.0" />
<path d="M213.0,318.0 L229.0,311.5" stroke-width="1.0" />
<path d="M213.5,323.0 L230.0,316.5" stroke-width="1.0" />
<path d="M212.5,328.0 L219.0,333.0" stroke-width="1.0" />
<path d="M211.4,321.4 L211.4,338.5" stroke-width="1.0" />
<path d="M201.0,306.0 L237.0,294.0" stroke-width="1.0" />
<path d="M212.5,327.8 L232.0,320.5" stroke-width="1.0" />
<path d="M231.0,314.0 L235.0,322.0" stroke-width="1.0" />
<path d="M236.0,327.0 L243.0,322.5" stroke-width="1.0" />
<ellipse cx="201" cy="334.3" rx="8.6" ry="11" transform="rotate(25 201 334.3)" stroke-width="1.38" />
<ellipse cx="185.5" cy="338" rx="4.5" ry="7.5" transform="rotate(15 185.5 338)" stroke-width="1.0" />
<ellipse cx="180.5" cy="361.2" rx="9.3" ry="12.2" transform="rotate(25 180.5 361.2)" stroke-width="1.38" fill="#fff"/>
<ellipse cx="180.5" cy="361.2" rx="7.8" ry="10.7" transform="rotate(25 180.5 361.2)" stroke-width="1.0" />
<ellipse cx="184" cy="347.8" rx="2.5" ry="3.2" transform="rotate(20 184 347.8)" stroke-width="1.0" fill="#fff"/>
<path d="M238.5,305.5 L243.0,304.5 L241.5,309.5Z" stroke-width="1.49" />
<ellipse cx="240.5" cy="316" rx="1.8" ry="2.9" transform="rotate(15 240.5 316)" stroke-width="1.49" />
<path d="M97.3,211.5 L102.5,211.5 L102.5,215.5 L98.2,220.3" stroke-width="1.67" />
<path d="M107.6,211.5 L113.2,211.5 L113.2,219.6 L107.6,219.6Z" stroke-width="1.67" />
<path d="M118.5,212.6 L119.4,214.3" stroke-width="1.67" />
<path d="M124.2,213.4 L123.0,217.0 L118.5,220.2" stroke-width="1.67" />
<path d="M130.0,210.0 L130.0,220.3" stroke-width="1.84" />
<path d="M131.0,214.8 L133.3,216.3" stroke-width="1.67" />
<path d="M138.3,211.5 L145.6,211.5 L143.8,214.0" stroke-width="1.67" />
<path d="M143.0,213.0 L141.5,218.0 L140.3,220.3" stroke-width="1.67" />
<path d="M154.7,210.4 L151.0,214.5 L148.5,216.3" stroke-width="1.67" />
<path d="M152.6,214.5 L152.6,220.3" stroke-width="1.67" />
<path d="M161.0,210.3 L161.0,220.3" stroke-width="1.84" />
<path d="M162.0,214.5 L164.6,216.4" stroke-width="1.67" />
<path d="M164.8,210.6 L164.8,211.8" stroke-width="1.72" />
<path d="M170.4,211.0 L174.6,211.0" stroke-width="1.61" />
<path d="M169.4,213.8 L176.6,213.8 L175.5,216.5 L171.3,220.3" stroke-width="1.61" />
<path d="M103.9,223.6 L99.5,223.6 L99.5,233.4" stroke-width="1.67" />
<path d="M99.5,228.4 L103.6,228.4" stroke-width="1.67" />
<path d="M107.3,233.4 L107.3,226.6" stroke-width="1.67" />
<path d="M107.3,227.5 L108.5,226.5 L111.6,226.5" stroke-width="1.67" />
<path d="M113.7,227.0 L117.6,227.0 L117.6,233.2 L113.7,233.2Z" stroke-width="1.67" />
<path d="M120.6,233.4 L120.6,226.6 L123.4,226.6 L123.4,233.4" stroke-width="1.67" />
<path d="M128.7,224.2 L128.7,233.2 L130.8,233.2" stroke-width="2.07" />
<path d="M128.7,226.8 L130.8,226.8" stroke-width="1.67" />
<path d="M143.0,223.8 L143.0,233.4" stroke-width="1.95" />
<path d="M151.3,223.8 L151.3,233.4 L148.6,233.4 L148.6,226.8 L151.3,226.8" stroke-width="1.67" />
<path d="M156.9,223.8 L156.9,233.4" stroke-width="1.95" />
<path d="M166.0,229.6 L162.4,229.6 L162.4,226.8 L166.0,226.8 L166.0,229.6" stroke-width="1.67" />
<path d="M162.4,229.6 L162.4,233.2 L166.0,233.2" stroke-width="1.67" />
<path d="M169.8,233.4 L169.8,226.6" stroke-width="1.72" />
<path d="M169.8,227.5 L171.5,226.6 L172.7,227.8" stroke-width="1.67" />
<path d="M350,156.4 L411.9,129 L423.1,128.3 L434.3,134.7 L442.8,144.5 L448.4,155.7 L451.2,168.4 L450.5,178.2 L448,187 L442,196 L432,202.5 L412.4,208.4 L405,202 L382,197 L362,186 L355.5,187 Z" stroke-width="1.72" fill="#fff"/>
<path d="M354.0,160.0 L364.1,152.2 L416.1,129.7 L423.1,128.3" stroke-width="1.1" />
<path d="M384.0,148.5 L417.5,134.5" stroke-width="1.1" />
<path d="M432.9,137.5 L438.0,142.0 L441.4,150.1 L444.0,158.0" stroke-width="1.1" />
<path d="M403.4,155.7 L432.9,137.5" stroke-width="1.38" />
<path d="M404.8,171.9 L448.4,154.3" stroke-width="1.38" />
<path d="M409.0,185.3 L450.5,168.4" stroke-width="1.38" />
<path d="M409,154.3 C414,152 420,156 423,162 C425,167 424.5,171 424,171.2" stroke-width="1.0" stroke-dasharray="2.5 2"/>
<path d="M405.0,157.0 L408.0,168.0 L409.0,185.3 L412.4,208.4" stroke-width="1.49" />
<path d="M385.1,149.4 L374.0,152.5 L366.9,158.5 L362.7,171.2 L363.5,178.0 L365.5,181.0 L372.0,189.0 L381.0,194.0" stroke-width="1.84" />
<path d="M382.3,153.6 L374.0,156.5 L368.3,162.8 L366.0,172.0 L367.0,180.0" stroke-width="2.07" />
<path d="M385.1,149.4 L392.0,153.0 L396.4,160.0 L400.6,168.4 L402.0,176.0 L403.0,198.0" stroke-width="1.72" />
<path d="M380.0,152.0 L388.0,156.0 L393.6,163.0 L396.0,170.0" stroke-width="1.0" />
<path d="M368.3,165.6 L396.4,155.7" stroke-width="1.38" />
<path d="M368.3,178.2 L393.6,168.4" stroke-width="1.38" />
<path d="M318.8,160.3 L330,154.6 L338,158.8 L351.8,158.4 L353.3,187.2 L339.9,196.4 L318.8,183.3 Z" stroke-width="1.72" fill="#fff"/>
<path d="M318.8,160.3 L340.3,170.3 L339.9,196.4" stroke-width="1.72" />
<path d="M340.3,170.3 L352.6,162.6" stroke-width="1.72" />
<path d="M341.0,173.8 L352.6,167.2" stroke-width="1.0" />
<path d="M326.9,160.7 L333.0,156.9 L338.0,159.6" stroke-width="1.0" />
<path d="M353.8,156.5 L353.8,187.2" stroke-width="2.76" />
<path d="M356.0,156.0 L356.0,186.5" stroke-width="1.38" />
<path d="M356.0,186.5 L362.0,186.0" stroke-width="1.72" />
<ellipse cx="323.2" cy="166.9" rx="2.6" ry="3.6" transform="rotate(-20 323.2 166.9)" stroke-width="1.72" />
<ellipse cx="322.9" cy="180.6" rx="2.6" ry="3.6" transform="rotate(-20 322.9 180.6)" stroke-width="1.72" />
<ellipse cx="393" cy="183" rx="7.8" ry="9.8" transform="rotate(-30 393 183)" stroke-width="2.07" fill="#fff"/>
<ellipse cx="391.8" cy="184" rx="4.3" ry="5.8" transform="rotate(-30 391.8 184)" stroke-width="1.61" />
<path d="M397.0,173.5 L401.0,176.0 L404.0,183.0 L404.0,193.0" stroke-width="1.61" />
<path d="M400.0,173.8 L405.0,178.0 L406.0,186.0 L405.5,194.0" stroke-width="1.1" />
<path d="M381.3,194.3 L388,191 L404,195 L410.4,199.4 L412.4,225.5 L403.4,230.5 L382.3,221.4 Z" stroke-width="1.72" fill="#fff"/>
<path d="M381.3,194.3 L402.4,202.4 L403.4,230.5" stroke-width="1.72" />
<path d="M402.4,202.4 L410.4,199.4" stroke-width="1.72" />
<path d="M404.5,204.0 L405.5,229.0" stroke-width="1.0" />
<ellipse cx="398.4" cy="208.4" rx="2.3" ry="3.3" transform="rotate(-20 398.4 208.4)" stroke-width="1.72" />
<ellipse cx="398.4" cy="224.5" rx="2.3" ry="3.3" transform="rotate(-20 398.4 224.5)" stroke-width="1.72" />
<path d="M410.0,218.0 L411.0,227.0" stroke-width="1.0" />
<path d="M304.4,216.3 L308.2,211.3 L313.8,208.2 L318.8,207.2 L323.2,208.2 L327,211.3 L330.8,218.2 L331.4,231.4 L329.5,233.3 L322.6,237 L319.5,238.3 L314.4,237 L309.4,232 L304.4,223.9 Z" stroke-width="1.95" fill="#fff"/>
<path d="M311.9,211.3 C316,213 319,217 321,221 C323,226 324,231 323.6,236" stroke-width="1.84" />
<path d="M318.8,214.4 L323.9,211.3" stroke-width="1.72" />
<path d="M323.9,227.0 L330.8,225.1" stroke-width="1.72" />
<ellipse cx="314.5" cy="225.7" rx="4.8" ry="7" transform="rotate(-25 314.5 225.7)" stroke-width="2.3" />
<path d="M312.5,222.0 L314.0,228.0" stroke-width="1.0" />
<path d="M315.0,221.0 L316.5,228.5" stroke-width="1.0" />
<path d="M293.2,225.4 L300.7,228.0 L302.5,228.9 L301.6,230.7 L297.6,232.9 L297.4,244.1 L300.3,245.4 L299.8,247.7 L295.4,248.1 L290.5,245.0 L289.4,243.2 L289.4,229.4 L290.9,227.1 L293.2,225.4" stroke-width="1.61" />
<path d="M292.5,230.6 L295.6,230.8" stroke-width="1.61" />
<path d="M293.0,234.8 L293.3,237.8" stroke-width="1.84" />
<ellipse cx="276.7" cy="246" rx="3.3" ry="4.6" transform="rotate(-20 276.7 246)" stroke-width="2.99" />
<ellipse cx="276.9" cy="245.8" rx="0.8" ry="1.2" transform="rotate(-20 276.9 245.8)" stroke-width="1.0" />
<path d="M259.4,255.9 L269.5,248.5" stroke-width="1.49" />
<path d="M260.0,260.6 L270.8,253.9" stroke-width="1.49" />
<ellipse cx="262.3" cy="256.6" rx="1.3" ry="2.8" transform="rotate(-30 262.3 256.6)" stroke-width="1.38" />
<ellipse cx="264.8" cy="255.00000000000003" rx="1.3" ry="2.8" transform="rotate(-30 264.8 255.00000000000003)" stroke-width="1.38" />
<ellipse cx="267.3" cy="253.40000000000003" rx="1.3" ry="2.8" transform="rotate(-30 267.3 253.40000000000003)" stroke-width="1.38" />
<ellipse cx="269.8" cy="251.8" rx="1.3" ry="2.8" transform="rotate(-30 269.8 251.8)" stroke-width="1.38" />
<path d="M248.3,257.9 L250.7,254.6 L254.7,253.2 L258.7,254.6 L260,259.3 L258.7,263.3 L254.7,264.6 L250,262.6 Z" stroke-width="1.84" fill="#fff"/>
<path d="M254.7,253.2 L256.0,258.5 L254.7,264.6" stroke-width="1.1" />
<ellipse cx="444.5" cy="225.5" rx="2.8" ry="4.5" transform="rotate(-25 444.5 225.5)" stroke-width="2.07" />
<ellipse cx="444.5" cy="225.5" rx="1" ry="2" transform="rotate(-25 444.5 225.5)" stroke-width="1.0" />
<path d="M463.0,211.0 L468.0,206.7 L473.0,208.0 L474.0,215.0 L470.0,219.3 L465.0,219.0 L463.0,211.0" stroke-width="1.84" />
<path d="M465.0,214.0 L470.0,212.0" stroke-width="1.0" />
<ellipse cx="452" cy="220.5" rx="1.4" ry="3.4" transform="rotate(-30 452 220.5)" stroke-width="1.49" />
<ellipse cx="455" cy="218.7" rx="1.4" ry="3.4" transform="rotate(-30 455 218.7)" stroke-width="1.49" />
<ellipse cx="458" cy="216.9" rx="1.4" ry="3.4" transform="rotate(-30 458 216.9)" stroke-width="1.49" />
<ellipse cx="461" cy="215.1" rx="1.4" ry="3.4" transform="rotate(-30 461 215.1)" stroke-width="1.49" />
<path d="M451.0,217.5 L462.0,211.5" stroke-width="1.38" />
<path d="M452.0,224.0 L463.0,218.5" stroke-width="1.38" />
<path d="M204.2,524.3 C204,516 207,507 213.6,501.3 C217,498.5 222,498 226,498.8 C234,500.5 242,508 247.1,514.9 C252,521 256,530 258.1,538 C259.5,546 258.5,551 255.5,554.7 C252,559 247,562 240,563.2 C234,563.5 229,561 225.1,557.8 Z" stroke-width="1.84" fill="#fff"/>
<path d="M220.9,500.2 C230,503 239,509 244,515.9 C249,522 252.3,529.5 253.2,536 C254,545 252,553 248.1,557.8" stroke-width="1.49" />
<path d="M210.5,521.2 C212,516 215,513 218.8,512.8 C222,512.2 226,512.5 228.3,513.8 C234,517 238,522 239.8,526.4 C242.5,531 244,536 244,539 C244,544 243.5,547 242.9,549.4 C240,552 237.5,553 235.6,553.6 L225.1,556.8 Z" stroke-width="2.3" fill="#fff"/>
<path d="M214.7,521.2 C221,522 226,525 229.3,529.5 C231.5,533 232.4,538 232.4,542.1 C232.4,546 231.5,549 230.4,551.5" stroke-width="1.38" />
<path d="M216.5,519.5 C223,520.5 228.5,524 231.5,528.5 C234,532.5 235,537.5 235,541.5 C235,546 234,549.5 232.8,552" stroke-width="1.38" />
<path d="M219,517.5 C226,518.5 231,522 234.5,527 C237,531 238,536 238,540.5 C238,545 237,549 235.5,552.5" stroke-width="1.84" />
<path d="M174.4,545.6 L200,527.4 L209.4,526.4 C214,529 218,533 218.8,534.8 C221.5,539 222.5,545 222.5,545.2 C223,550 223,554.7 223,554.7 L219.9,558.8 L178.1,584 Z" stroke-width="1.0" fill="#fff" stroke="none"/>
<path d="M174.4,545.6 L209.4,526.4" stroke-width="1.72" />
<path d="M178.1,584.0 L219.9,558.8" stroke-width="1.72" />
<path d="M209.4,526.4 C214,529 217.5,532 218.8,534.8 C221.5,539 222.5,545 222.8,550 C223,554 221.5,557.5 219.9,558.8" stroke-width="1.72" />
<path d="M161.2,551.2 L174.4,545.6 C184,546 191,557 189,570 C188,578 184,582 178.1,584 L170,587 Z" stroke-width="1.0" fill="#fff" stroke="none"/>
<path d="M161.2,551.2 L174.4,545.6" stroke-width="1.72" />
<path d="M170.0,548.3 L170.9,547.9 L171.9,547.6 L172.9,547.6 L174.0,547.7 L175.2,547.9 L176.4,548.4 L177.6,548.9 L178.8,549.7 L180.0,550.6 L181.2,551.6 L182.4,552.8 L183.5,554.0 L184.6,555.4 L185.6,556.8 L186.6,558.4 L187.4,559.9 L188.1,561.5 L188.8,563.1 L189.3,564.7 L189.7,566.3 L190.0,567.9 L190.2,569.4 L190.2,570.8 L190.1,572.2 L189.9,573.4 L189.5,574.6 L189.1,575.6 L188.5,576.4 L187.8,577.2 L187.0,577.7" stroke-width="2.07" />
<ellipse cx="168.7" cy="567.6" rx="9.3" ry="17" transform="rotate(-30 168.7 567.6)" stroke-width="1.72" fill="#fff"/>
<ellipse cx="169.5" cy="567" rx="5.8" ry="10.5" transform="rotate(-30 169.5 567)" stroke-width="1.84" />
<ellipse cx="170" cy="566.5" rx="3.8" ry="7.5" transform="rotate(-30 170 566.5)" stroke-width="2.3" />
<ellipse cx="266.2" cy="511.4" rx="5.7" ry="8.6" transform="rotate(-30 266.2 511.4)" stroke-width="1.38" />
<path d="M280.3,492.5 L382.4,431.6 L391.8,452.2 L287.8,510.3 Z" stroke-width="1.0" fill="#fff" stroke="none"/>
<path d="M280.3,492.5 L382.4,431.6" stroke-width="1.72" />
<path d="M287.8,510.3 L397.5,449.5" stroke-width="1.72" />
<ellipse cx="283" cy="501.3" rx="6" ry="10.8" transform="rotate(-30 283 501.3)" stroke-width="1.72" fill="#fff"/>
<ellipse cx="282.7" cy="500.5" rx="1.1" ry="1.4" transform="rotate(0 282.7 500.5)" stroke-width="1.38" />
<path d="M288.6,485.1 L289.5,484.8 L290.5,484.7 L291.5,484.8 L292.7,485.2 L293.9,485.8 L295.0,486.6 L296.2,487.6 L297.3,488.8 L298.3,490.1 L299.2,491.5 L300.0,493.0 L300.6,494.5 L301.1,496.1 L301.4,497.6 L301.5,499.0 L301.4,500.3 L301.2,501.5 L300.7,502.5 L300.1,503.3 L299.4,503.9" stroke-width="1.49" />
<path d="M362.1,442.6 L363.0,442.3 L364.0,442.2 L365.0,442.3 L366.2,442.7 L367.4,443.3 L368.5,444.1 L369.7,445.1 L370.8,446.3 L371.8,447.6 L372.7,449.0 L373.5,450.5 L374.1,452.0 L374.6,453.6 L374.9,455.1 L375.0,456.5 L374.9,457.8 L374.7,459.0 L374.2,460.0 L373.6,460.8 L372.9,461.4" stroke-width="2.07" />
<path d="M366.1,440.1 L367.0,439.8 L368.0,439.7 L369.0,439.8 L370.2,440.2 L371.4,440.8 L372.5,441.6 L373.7,442.6 L374.8,443.8 L375.8,445.1 L376.7,446.5 L377.5,448.0 L378.1,449.5 L378.6,451.1 L378.9,452.6 L379.0,454.0 L378.9,455.3 L378.7,456.5 L378.2,457.5 L377.6,458.3 L376.9,458.9" stroke-width="1.49" />
<path d="M377.4,433.2 L378.3,432.8 L379.3,432.7 L380.4,432.9 L381.6,433.2 L382.9,433.9 L384.1,434.7 L385.3,435.8 L386.4,437.0 L387.5,438.4 L388.5,439.9 L389.3,441.4 L389.9,443.0 L390.4,444.6 L390.7,446.2 L390.9,447.7 L390.8,449.1 L390.5,450.3 L390.1,451.3 L389.4,452.2 L388.6,452.8" stroke-width="2.3" />
<path d="M383.4,428.9 L384.2,428.0 L385.3,427.4 L386.5,427.1 L387.9,427.2 L389.4,427.6 L390.9,428.4 L392.4,429.4 L393.9,430.8 L395.2,432.3 L396.5,434.1 L397.6,436.0 L398.5,437.9 L399.1,439.9 L399.6,441.8 L399.7,443.7 L399.6,445.4 L399.2,446.8 L398.6,448.1 L397.8,449.0 L396.7,449.6" stroke-width="1.49" />
<path d="M364.0,442.0 L382.0,431.5" stroke-width="1.72" />
<path d="M96.8,592.5 L138.1,569 C148,567 154,578 152.7,590 L152.7,593.6 L112.5,617 Z" stroke-width="1.0" fill="#fff" stroke="none"/>
<path d="M96.8,592.5 L138.1,569.0" stroke-width="1.49" />
<path d="M112.5,617.0 L152.7,593.6" stroke-width="1.49" />
<path d="M137.0,569.1 L137.8,568.6 L138.6,568.3 L139.5,568.1 L140.4,568.1 L141.4,568.3 L142.5,568.6 L143.6,569.1 L144.7,569.8 L145.8,570.5 L146.9,571.5 L147.9,572.5 L149.0,573.6 L150.0,574.9 L150.9,576.2 L151.8,577.6 L152.5,579.0 L153.2,580.5 L153.8,582.0 L154.3,583.5 L154.6,584.9 L154.9,586.3 L155.0,587.7 L155.0,588.9 L154.9,590.1 L154.6,591.2 L154.3,592.2 L153.8,593.0 L153.2,593.7 L152.6,594.2 L151.8,594.6" stroke-width="1.49" />
<ellipse cx="104.7" cy="604.3" rx="7.8" ry="14.8" transform="rotate(-30 104.7 604.3)" stroke-width="1.49" fill="#fff"/>
<ellipse cx="104.5" cy="604.3" rx="4.8" ry="9.9" transform="rotate(-30 104.5 604.3)" stroke-width="1.49" />
<ellipse cx="105.5" cy="603.8" rx="4" ry="9" transform="rotate(-30 105.5 603.8)" stroke-width="1.0" />
<ellipse cx="416.9" cy="424.3" rx="9.8" ry="13.5" transform="rotate(-30 416.9 424.3)" stroke-width="1.84" />
<ellipse cx="417.3" cy="424.1" rx="8.3" ry="11.8" transform="rotate(-30 417.3 424.1)" stroke-width="1.38" />
<ellipse cx="418.2" cy="423.6" rx="6" ry="9.8" transform="rotate(-30 418.2 423.6)" stroke-width="2.07" />
<ellipse cx="419" cy="423.2" rx="4.8" ry="8.3" transform="rotate(-30 419 423.2)" stroke-width="1.0" />
<path d="M432,405 C429,408 428.5,414 430.5,418.5 C432.5,422 437,423 440,421 C441.5,418 441,412 438.5,407.5 L436.5,406.5 L437.5,411 C439,414 439,418 436.5,418.5 C434,418.5 432.5,415 432.5,411.5 L434,408 Z" stroke-width="1.49" />
<ellipse cx="452.1" cy="403.5" rx="9.2" ry="11.7" transform="rotate(-30 452.1 403.5)" stroke-width="2.07" />
<ellipse cx="451.2" cy="404.6" rx="4.5" ry="8.2" transform="rotate(-30 451.2 404.6)" stroke-width="1.72" />
<ellipse cx="452.5" cy="403.5" rx="3.5" ry="7" transform="rotate(-30 452.5 403.5)" stroke-width="1.0" />
<ellipse cx="472" cy="392" rx="8.9" ry="12.5" transform="rotate(-30 472 392)" stroke-width="1.72" />
<ellipse cx="470.8" cy="392.6" rx="3.5" ry="10" transform="rotate(-30 470.8 392.6)" stroke-width="1.38" />
<ellipse cx="472" cy="391.8" rx="2.5" ry="8.5" transform="rotate(-30 472 391.8)" stroke-width="1.0" />
<g fill="#fff">
<path d="M548.9,328.5 L548.4,317.3 L551.2,307.3 L562.3,301.7 L584.7,305.6 L595.8,315.1 L601.4,327.4 L601.4,341.9 L598,347.5 L595.8,358.6 L584.7,365.3 L569,362 L562.3,356.4 Z" stroke-width="2.07" />
</g>
<path d="M562.3,305.0 L584.7,317.3 L595.8,331.8" stroke-width="2.53" />
<path d="M565.0,308.5 L584.0,318.0" stroke-width="1.0" />
<path d="M585.8,333.0 L586.9,360.9" stroke-width="2.07" />
<path d="M588.5,335.0 L588.5,360.0" stroke-width="1.0" />
<path d="M595.8,331.8 L596.0,358.0" stroke-width="1.49" />
<path d="M551.2,333.1 L550.9,331.2 L550.8,329.4 L550.8,327.7 L550.9,326.0 L551.2,324.5 L551.6,323.1 L552.1,321.8 L552.8,320.6 L553.6,319.6 L554.6,318.8 L555.6,318.2 L556.8,317.7 L558.0,317.4 L559.3,317.4 L560.7,317.5 L562.1,317.8 L563.6,318.2 L565.1,318.9 L566.6,319.7 L568.0,320.7 L569.5,321.9 L571.0,323.2 L572.3,324.6 L573.7,326.1 L574.9,327.8 L576.1,329.5 L577.2,331.4 L578.1,333.2 L579.0,335.1 L579.7,337.1 L580.3,339.0 L580.8,340.9 L581.1,342.8 L581.2,344.6 L581.2,346.3 L581.1,348.0 L580.8,349.5 L580.4,350.9 L579.9,352.2 L579.2,353.4" stroke-width="2.53" />
<ellipse cx="566.5" cy="338.5" rx="9" ry="16.5" transform="rotate(-30 566.5 338.5)" stroke-width="1.84" fill="#fff"/>
<path d="M555.4,327.9 L556.1,327.3 L556.9,326.8 L557.7,326.5 L558.7,326.4 L559.7,326.5 L560.8,326.7 L561.9,327.1 L563.1,327.7 L564.2,328.4 L565.4,329.3 L566.5,330.3 L567.6,331.4 L568.7,332.7 L569.7,334.0 L570.6,335.4 L571.4,336.9 L572.2,338.4 L572.8,340.0 L573.3,341.5 L573.8,343.0 L574.0,344.5 L574.2,345.9 L574.2,347.3 L574.1,348.5 L573.9,349.7 L573.5,350.7 L573.0,351.6 L572.4,352.3 L571.7,352.9 L570.9,353.3" stroke-width="1.49" />
<path d="M553.6,330.2 L554.1,329.6 L554.8,329.2 L555.6,329.0 L556.4,328.9 L557.4,329.0 L558.3,329.2 L559.3,329.6 L560.4,330.1 L561.4,330.8 L562.5,331.7 L563.5,332.6 L564.5,333.7 L565.5,334.9 L566.4,336.1 L567.3,337.5 L568.0,338.9 L568.7,340.3 L569.3,341.7 L569.9,343.1 L570.2,344.5 L570.5,345.9 L570.7,347.2 L570.8,348.4 L570.7,349.6 L570.5,350.6 L570.2,351.6 L569.8,352.4 L569.3,353.0 L568.7,353.5 L567.9,353.9" stroke-width="1.49" />
<ellipse cx="590" cy="341" rx="1.3" ry="1.8" transform="rotate(0 590 341)" stroke-width="1.84" />
<ellipse cx="590" cy="350" rx="1.3" ry="1.8" transform="rotate(0 590 350)" stroke-width="1.84" />
<path d="M498.4,363.7 L548,332.3 C556,334 563,342 562.7,356 L511.1,384.5 Z" stroke-width="1.0" fill="#fff" stroke="none"/>
<path d="M549.6,332.4 L550.2,332.0 L551.0,331.7 L551.8,331.6 L552.6,331.6 L553.6,331.7 L554.5,332.1 L555.5,332.5 L556.5,333.1 L557.5,333.9 L558.5,334.7 L559.5,335.7 L560.5,336.8 L561.4,338.0 L562.3,339.2 L563.1,340.5 L563.8,341.8 L564.4,343.2 L565.0,344.6 L565.4,346.0 L565.8,347.3 L566.0,348.6 L566.2,349.8 L566.2,351.0 L566.1,352.1 L565.9,353.1 L565.6,354.0 L565.2,354.7 L564.6,355.4 L564.0,355.9 L563.3,356.2" stroke-width="1.72" />
<path d="M498.4,363.7 L548.0,332.3" stroke-width="1.61" />
<path d="M511.1,384.5 L562.7,356.0" stroke-width="1.61" />
<path d="M497.7,363.2 L498.4,362.7 L499.1,362.5 L499.9,362.3 L500.7,362.3 L501.6,362.5 L502.5,362.7 L503.4,363.1 L504.4,363.7 L505.4,364.4 L506.4,365.2 L507.3,366.0 L508.2,367.0 L509.1,368.1 L510.0,369.3 L510.8,370.5 L511.5,371.8 L512.1,373.0 L512.7,374.4 L513.2,375.7 L513.5,377.0 L513.8,378.2 L514.0,379.5 L514.1,380.6 L514.0,381.7 L513.9,382.7 L513.7,383.7 L513.3,384.5 L512.9,385.2 L512.4,385.7 L511.8,386.2" stroke-width="2.76" />
<path d="M481.4,377.1 L485.7,369.7 L493.7,364.4 L498.4,363.7 L503.1,366.4 L508,372 L509.5,381 L507,388 L501.8,391.5 L489.1,391.1 L484.4,386.5 Z" stroke-width="2.3" fill="#fff"/>
<path d="M493.4,366.4 L493.9,365.9 L494.6,365.5 L495.3,365.3 L496.0,365.2 L496.9,365.3 L497.8,365.5 L498.7,365.8 L499.6,366.3 L500.6,366.9 L501.5,367.6 L502.5,368.5 L503.4,369.4 L504.3,370.5 L505.1,371.6 L505.9,372.8 L506.6,374.0 L507.2,375.3 L507.7,376.6 L508.2,377.8 L508.5,379.1 L508.7,380.3 L508.9,381.5 L508.9,382.6 L508.8,383.7 L508.6,384.6 L508.4,385.4 L508.0,386.2 L507.5,386.8 L506.9,387.2 L506.2,387.6" stroke-width="2.76" />
<path d="M489.2,369.3 L489.7,368.8 L490.3,368.5 L490.9,368.3 L491.7,368.2 L492.4,368.3 L493.3,368.5 L494.1,368.8 L495.0,369.3 L495.9,369.9 L496.8,370.6 L497.7,371.4 L498.6,372.3 L499.4,373.3 L500.2,374.4 L500.9,375.5 L501.6,376.7 L502.2,377.9 L502.7,379.2 L503.2,380.4 L503.5,381.6 L503.7,382.8 L503.9,383.9 L503.9,385.0 L503.9,385.9 L503.7,386.8 L503.5,387.6 L503.1,388.3 L502.7,388.9 L502.1,389.3 L501.5,389.6" stroke-width="2.53" />
<ellipse cx="489" cy="381.5" rx="5.5" ry="10" transform="rotate(-30 489 381.5)" stroke-width="1.49" />
<path d="M486.4,380.1 L490.7,380.1 L490.7,385.5 L486.4,385.5Z" stroke-width="1.49" />
<path d="M613.8,326.2 L619.5,325.4 L620,330 L622.7,333.5 L622.3,340.7 L617.9,343.1 L615.4,339.1 L613.8,335.1 Z" stroke-width="1.84" fill="#fff"/>
<path d="M614,326.5 L619.3,325.8 L619.5,330.5 L614.5,331.5 Z" stroke-width="1.0" fill="#000"/>
<ellipse cx="618.7" cy="335.5" rx="1.6" ry="1.8" transform="rotate(0 618.7 335.5)" stroke-width="1.38" />
<path d="M628.3,339.9 L630.7,334.3 L635.5,333.5 L636.7,337.5 L634.7,341.5 L629.9,342.3 Z" stroke-width="2.3" fill="#fff"/>
<path d="M631.5,339.5 L633.5,336.5" stroke-width="1.38" />
<path d="M638.7,341 C637,343 638.5,346 641,346.5 L651,352 L653,346.5 L642,340.2 C640.5,339.7 639.5,340 638.7,341 Z" stroke-width="2.07" fill="#fff"/>
<ellipse cx="641.0" cy="343.3" rx="0.9" ry="1.3" transform="rotate(30 641.0 343.3)" stroke-width="1.0" />
<ellipse cx="644.3" cy="345.2" rx="0.9" ry="1.3" transform="rotate(30 644.3 345.2)" stroke-width="1.0" />
<ellipse cx="647.6" cy="347.1" rx="0.9" ry="1.3" transform="rotate(30 647.6 347.1)" stroke-width="1.0" />
<path d="M650,345.5 L656,345 L661.5,349 L662,355 L658,357 L652,354.5 Z" stroke-width="2.07" fill="#fff"/>
<ellipse cx="658.5" cy="351.5" rx="2.8" ry="5" transform="rotate(30 658.5 351.5)" stroke-width="1.72" />
<path d="M653.0,346.0 L655.0,355.0" stroke-width="1.38" />
<path d="M633.3,371.9 C632,374 633,376.5 635.5,377.5 L648,384.5 L650.5,378.5 L638,371.5 C636,370.5 634.3,370.8 633.3,371.9 Z" stroke-width="2.07" fill="#fff"/>
<ellipse cx="636.0" cy="374.2" rx="1.0" ry="1.6" transform="rotate(30 636.0 374.2)" stroke-width="1.0" />
<ellipse cx="639.2" cy="376.0" rx="1.0" ry="1.6" transform="rotate(30 639.2 376.0)" stroke-width="1.0" />
<ellipse cx="642.4" cy="377.8" rx="1.0" ry="1.6" transform="rotate(30 642.4 377.8)" stroke-width="1.0" />
<ellipse cx="645.6" cy="379.59999999999997" rx="1.0" ry="1.6" transform="rotate(30 645.6 379.59999999999997)" stroke-width="1.0" />
<path d="M647.5,377.5 L653.5,377 L658.5,381 L659.8,386.5 L656.5,389.5 L650.5,387.5 Z" stroke-width="2.07" fill="#fff"/>
<ellipse cx="656.5" cy="383.5" rx="2.2" ry="4.3" transform="rotate(30 656.5 383.5)" stroke-width="1.61" />
<path d="M659.0,381.5 L661.5,385.5 L659.8,386.5" stroke-width="1.61" />
<path d="M651.0,378.0 L653.0,387.0" stroke-width="1.38" />
<ellipse cx="279.6" cy="506.1" rx="135.9" ry="125.6" stroke="#00a0e4" stroke-width="5"/>
</svg></body></html>
